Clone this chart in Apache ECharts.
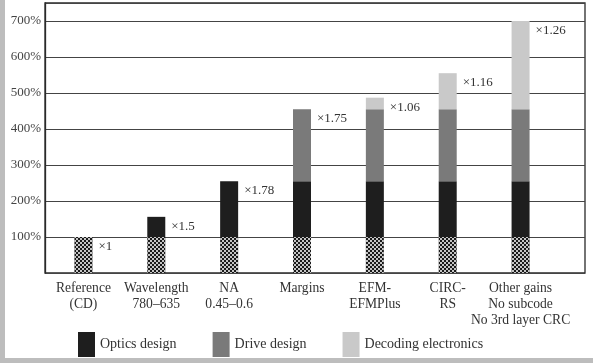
<!DOCTYPE html>
<html><head><meta charset="utf-8">
<script src="https://cdn.jsdelivr.net/npm/echarts@6/dist/echarts.min.js"></script>
<style>html,body{margin:0;padding:0;background:#fff}#c{width:593px;height:363px}</style>
</head><body><div id="c"></div>
<script>
var categories = ['Reference\n(CD)', 'Wavelength\n780\u2013635', 'NA\n0.45\u20130.6', 'Margins', 'EFM-\nEFMPlus', 'CIRC-\nRS', 'Other gains\nNo subcode\nNo 3rd layer CRC'];
var baseValues = [100, 100, 100, 100, 100, 100, 100];
var opticsValues = [0, 56, 155, 155, 155, 155, 155];
var driveValues = [0, 0, 0, 200, 200, 200, 200];
var decodingValues = [0, 0, 0, 0, 32, 100, 245];
var multipliers = ['\u00d71', '\u00d71.5', '\u00d71.78', '\u00d71.75', '\u00d71.06', '\u00d71.16', '\u00d71.26'];
var yTicks = [100, 200, 300, 400, 500, 600, 700];

var serif = '"Liberation Serif", "DejaVu Serif", serif';
var stacks = [baseValues, opticsValues, driveValues, decodingValues];
function topIndex(i) { var t = 0; for (var s = 0; s < stacks.length; s++) if (stacks[s][i] > 0) t = s; return t; }
function build(sIdx) {
  return stacks[sIdx].map(function (v, i) {
    var d = { value: v };
    if (topIndex(i) === sIdx) {
      d.label = { show: true, position: ['100%', 0], offset: [6, 3], align: 'left', verticalAlign: 'top',
        formatter: multipliers[i], fontFamily: serif, fontSize: 13, color: '#333' };
    }
    return d;
  });
}
var chart = echarts.init(document.getElementById('c'));
var names = ['Base', 'Optics design', 'Drive design', 'Decoding electronics'];
var colors = ['#1a1a1a', '#1e1e1e', '#7a7a7a', '#c9c9c9'];
var series = names.map(function (n, s) {
  var o = { name: n, type: 'bar', stack: 'a', xAxisIndex: 1, yAxisIndex: 1, barWidth: 18,
    itemStyle: { color: colors[s] }, data: build(s), animation: false };
  if (s === 0) o.itemStyle.decal = { color: '#ffffff', symbol: 'circle', symbolSize: 1,
    dashArrayX: [[1.5, 1.5], [0, 1.5, 1.5, 0]], dashArrayY: [1.5, 0] };
  return o;
});
chart.setOption({
  animation: false,
  grid: [
    { left: 45, right: 8, top: 3, bottom: 90, show: true, borderColor: '#2a2a2a', borderWidth: 1.3, backgroundColor: '#fff' },
    { left: 47, right: 36, top: 3, bottom: 90 }
  ],
  xAxis: [
    { gridIndex: 0, type: 'value', show: false, min: 0, max: 1 },
    { gridIndex: 1, type: 'category', data: categories,
      axisLine: { show: false }, axisTick: { show: false },
      axisLabel: { margin: 7, fontFamily: serif, fontSize: 13.6, color: '#333', lineHeight: 16, interval: 0 } }
  ],
  yAxis: [
    { gridIndex: 0, type: 'value', min: 0, max: 750, interval: 100,
      axisLine: { show: true, lineStyle: { color: '#2a2a2a', width: 1.3 } }, axisTick: { show: false },
      splitLine: { lineStyle: { color: '#444', width: 1 } },
      axisLabel: { margin: 4, fontFamily: serif, fontSize: 13, color: '#444',
        formatter: function (v) { return yTicks.indexOf(v) >= 0 ? v + '%' : ''; } } },
    { gridIndex: 1, type: 'value', min: 0, max: 750, show: false }
  ],
  legend: { data: ['Optics design', 'Drive design', 'Decoding electronics'], left: 73, top: 327,
    itemWidth: 17, itemHeight: 25, itemGap: 36, icon: 'rect',
    textStyle: { fontFamily: serif, fontSize: 14, color: '#333' } },
  graphic: [
    { type: 'rect', left: 0, top: 0, shape: { width: 5, height: 363 }, style: { fill: '#bdbdbd' }, z: 100 },
    { type: 'rect', left: 0, top: 358, shape: { width: 593, height: 5 }, style: { fill: '#bdbdbd' }, z: 100 }
  ],
  series: series
});
</script></body></html>
